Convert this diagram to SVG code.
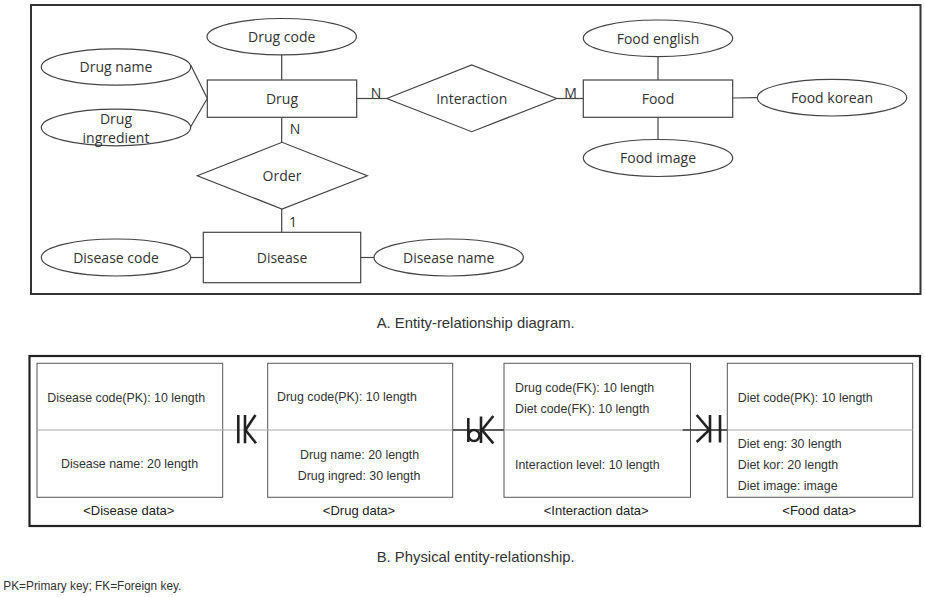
<svg xmlns="http://www.w3.org/2000/svg" width="925" height="597" viewBox="0 0 925 597">
<style>
.frame{fill:none;stroke:#333;stroke-width:2}
.frame2{fill:none;stroke:#222;stroke-width:2.2}
.shape{fill:#fff;stroke:#444;stroke-width:1.2}
.conn{stroke:#444;stroke-width:1.2;fill:none}
.t{font-family:"Open Sans","Noto Sans","Noto Sans CJK KR",sans-serif;font-size:14px;fill:#333;text-anchor:middle}
.box{fill:#fff;stroke:#555;stroke-width:1}
.div{stroke:#aaa;stroke-width:1.2}
.bt{font-family:"Liberation Sans","Noto Sans CJK KR",sans-serif;font-size:12.4px;fill:#333}
.lbl{font-family:"Liberation Sans","Noto Sans CJK KR",sans-serif;font-size:13px;fill:#222;text-anchor:middle}
.cap{font-family:"Liberation Sans",sans-serif;font-size:15px;fill:#333}
.sym{stroke:#222;stroke-width:2.6;fill:none}
.symline{stroke:#333;stroke-width:1.6}
</style>
<rect width="925" height="597" fill="#fff"/>

<!-- Part A -->
<rect class="frame" x="31" y="5" width="889.5" height="289"/>

<g id="connectors">
<line class="conn" x1="281.7" y1="54.8" x2="281.7" y2="80"/>
<polyline class="conn" points="190.7,65 207.3,98.5 190.7,126.7"/>
<line class="conn" x1="356.7" y1="98.5" x2="386.7" y2="98.5"/>
<line class="conn" x1="281.7" y1="117.3" x2="281.7" y2="142.3"/>
<line class="conn" x1="281.7" y1="209" x2="281.7" y2="232.3"/>
<line class="conn" x1="190.7" y1="257.5" x2="203.3" y2="257.5"/>
<line class="conn" x1="360.7" y1="257.5" x2="374" y2="257.5"/>
<line class="conn" x1="556.7" y1="98.5" x2="583.3" y2="98.5"/>
<line class="conn" x1="658" y1="56.7" x2="658" y2="80"/>
<line class="conn" x1="658" y1="117.3" x2="658" y2="139.5"/>
<line class="conn" x1="732.7" y1="98" x2="757.3" y2="97.7"/>
<text class="t" x="376" y="98">N</text>
<text class="t" x="295" y="134">N</text>
<text class="t" x="570.5" y="98">M</text>
<text class="t" x="293" y="227">1</text>
</g>

<g id="drug-code"><ellipse class="shape" cx="281.7" cy="36.7" rx="74.7" ry="18.2"/><text class="t" x="281.7" y="41.8">Drug code</text></g>
<g id="drug-name"><ellipse class="shape" cx="116" cy="67" rx="74.7" ry="18.2"/><text class="t" x="116" y="72">Drug name</text></g>
<g id="drug-ingredient"><ellipse class="shape" cx="116" cy="127.5" rx="74.7" ry="18.3"/><text class="t" x="116" y="123.5">Drug</text><text class="t" x="116" y="143">ingredient</text></g>
<g id="drug"><rect class="shape" x="207.3" y="80" width="149.4" height="37.3"/><text class="t" x="282" y="103.8">Drug</text></g>
<g id="interaction"><polygon class="shape" points="386.7,98.5 471.7,65 556.7,98.5 471.7,131.7"/><text class="t" x="471.7" y="103.8">Interaction</text></g>
<g id="food"><rect class="shape" x="583.3" y="80" width="149.4" height="37.3"/><text class="t" x="658" y="103.8">Food</text></g>
<g id="food-english"><ellipse class="shape" cx="658" cy="38.3" rx="74.7" ry="18.3"/><text class="t" x="658" y="43.5">Food english</text></g>
<g id="food-korean"><ellipse class="shape" cx="832" cy="97.7" rx="74.7" ry="18.3"/><text class="t" x="832" y="102.8">Food korean</text></g>
<g id="food-image"><ellipse class="shape" cx="658" cy="158" rx="74.7" ry="18.5"/><text class="t" x="658" y="163.2">Food image</text></g>
<g id="order"><polygon class="shape" points="197.3,175.7 282,142.3 367.3,175.7 282,209"/><text class="t" x="282" y="180.8">Order</text></g>
<g id="disease"><rect class="shape" x="203.3" y="232.3" width="157.4" height="50.4"/><text class="t" x="282" y="262.6">Disease</text></g>
<g id="disease-code"><ellipse class="shape" cx="116" cy="257.5" rx="74.7" ry="18.5"/><text class="t" x="116" y="262.6">Disease code</text></g>
<g id="disease-name"><ellipse class="shape" cx="448.7" cy="257.5" rx="74.7" ry="18.5"/><text class="t" x="448.7" y="262.6">Disease name</text></g>

<text class="cap" x="376.7" y="327.7" textLength="198" lengthAdjust="spacingAndGlyphs">A. Entity-relationship diagram.</text>

<!-- Part B -->
<rect class="frame2" x="29.5" y="356" width="890.5" height="170"/>

<g id="disease-data">
<rect class="box" x="37" y="363.3" width="185.7" height="134"/>
<text class="bt" x="47.3" y="402">Disease code(PK): 10 length</text>
<text class="bt" x="61" y="468">Disease name: 20 length</text>
<text class="lbl" x="128.8" y="514.5">&lt;Disease data&gt;</text>
</g>
<g id="drug-data">
<rect class="box" x="267.7" y="363.3" width="185" height="134"/>
<text class="bt" x="277" y="401">Drug code(PK): 10 length</text>
<text class="bt" x="300" y="458.5">Drug name: 20 length</text>
<text class="bt" x="297.7" y="480">Drug ingred: 30 length</text>
<text class="lbl" x="359" y="514.5">&lt;Drug data&gt;</text>
</g>
<g id="interaction-data">
<rect class="box" x="504" y="363.3" width="186.5" height="134"/>
<text class="bt" x="515" y="391.5">Drug code(FK): 10 length</text>
<text class="bt" x="515" y="413">Diet code(FK): 10 length</text>
<text class="bt" x="515" y="468.5">Interaction level: 10 length</text>
<text class="lbl" x="596.2" y="514.5">&lt;Interaction data&gt;</text>
</g>
<g id="food-data">
<rect class="box" x="727.3" y="363.3" width="185.4" height="134"/>
<text class="bt" x="737.7" y="402">Diet code(PK): 10 length</text>
<text class="bt" x="737.7" y="447.5">Diet eng: 30 length</text>
<text class="bt" x="737.7" y="469">Diet kor: 20 length</text>
<text class="bt" x="737.7" y="490">Diet image: image</text>
<text class="lbl" x="819.2" y="514.5">&lt;Food data&gt;</text>
</g>

<g id="relations">
<line class="div" x1="37" y1="430" x2="912.7" y2="430"/>
<!-- Disease - Drug -->
<line class="sym" x1="238.3" y1="415" x2="238.3" y2="443.3"/>
<line class="sym" x1="245" y1="415" x2="245" y2="443.3"/>
<polyline class="sym" points="255.5,415 245.5,430 256,443.3"/>
<!-- Drug - Interaction -->
<line class="symline" x1="452.7" y1="430" x2="504" y2="430"/>
<line class="sym" x1="468.3" y1="418" x2="468.3" y2="442"/>
<circle class="sym" cx="474" cy="435.5" r="5.5"/>
<line class="sym" x1="481" y1="416.5" x2="481" y2="443"/>
<polyline class="sym" points="493.3,416 482,430 493.3,443.3"/>
<!-- Interaction - Food -->
<line class="symline" x1="682.7" y1="430" x2="727.3" y2="430"/>
<polyline class="sym" points="696.7,415 709.3,430 696.7,442"/>
<line class="sym" x1="710" y1="415" x2="710" y2="442.5"/>
<line class="sym" x1="720" y1="415" x2="720" y2="442.5"/>
</g>

<text class="cap" x="376.7" y="561.5" textLength="198" lengthAdjust="spacingAndGlyphs">B. Physical entity-relationship.</text>
<text class="cap" x="3.3" y="589.5" style="font-size:12.5px" textLength="178" lengthAdjust="spacingAndGlyphs">PK=Primary key; FK=Foreign key.</text>
</svg>
